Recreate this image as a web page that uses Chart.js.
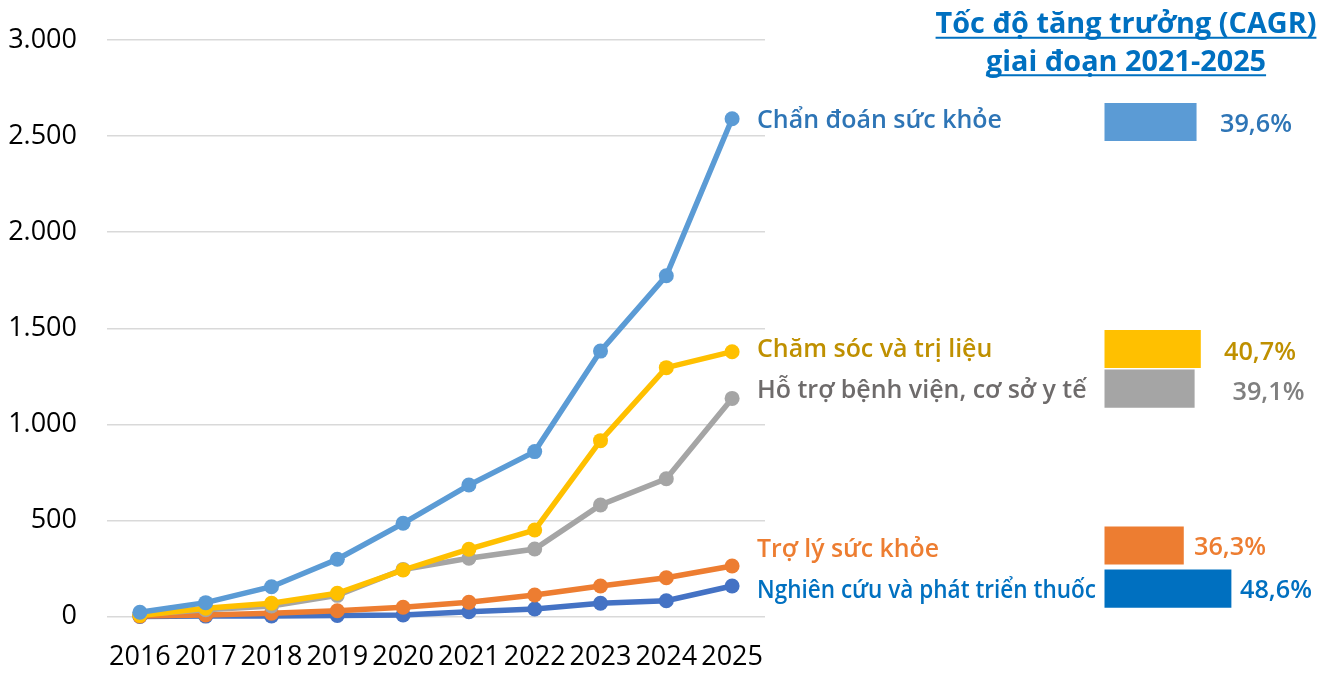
<!DOCTYPE html>
<html><head><meta charset="utf-8">
<script src="https://cdn.jsdelivr.net/npm/chart.js@4.4.1/dist/chart.umd.min.js"></script>
<style>
html,body{margin:0;padding:0;background:#fff;}
#wrap{position:relative;width:1330px;height:673px;}
canvas{position:absolute;left:0;top:0;}
</style></head><body>
<div id="wrap"><canvas id="main" width="1330" height="673"></canvas><canvas id="cagr" width="1330" height="673"></canvas></div>
<script>
// ---- data ----
const years = ['2016','2017','2018','2019','2020','2021','2022','2023','2024','2025'];
const seriesNames = ['Chẩn đoán sức khỏe','Chăm sóc và trị liệu','Hỗ trợ bệnh viện, cơ sở y tế','Trợ lý sức khỏe','Nghiên cứu và phát triển thuốc'];
const chanDoan  = [22, 72, 155, 298, 485, 684, 858, 1381, 1773, 2590];
const chamSoc   = [5, 43, 69, 121, 242, 350, 450, 915, 1295, 1378];
const hoTro     = [10, 35, 55, 110, 245, 303, 351, 580, 717, 1135];
const troLy     = [2, 8, 17, 30, 48, 74, 112, 159, 202, 263];
const nghienCuu = [0, 2, 3, 5, 8, 25, 39, 69, 82, 159];
const cagrValues = [39.6, 40.7, 39.1, 36.3, 48.6];
const cagrLabels = ['39,6%','40,7%','39,1%','36,3%','48,6%'];
const yTickLabels = ['0','500','1.000','1.500','2.000','2.500','3.000'];
const titleLines = ['Tốc độ tăng trưởng (CAGR)','giai đoạn 2021-2025'];

// ---- styles / layout ----
const seriesData = [chanDoan, chamSoc, hoTro, troLy, nghienCuu];
const lineColors = ['#5B9BD5','#FFC000','#A5A5A5','#ED7D31','#4472C4'];
const barColors  = ['#5B9BD5','#FFC000','#A5A5A5','#ED7D31','#0070C0'];
const nameColors = ['#2E75B6','#BF9000','#6E6B6B','#ED7D31','#0070C0'];
const pctColors  = ['#2E75B6','#BF9000','#7F7F7F','#ED7D31','#0070C0'];
const rowY       = [122, 349, 388.7, 545.5, 588.7];
const nameBase   = [128.3, 357.3, 397.7, 556.7, 598.3];
const nameWidth  = [245, 237, 334, 182, 339];
const pctX       = [1220, 1224, 1232.5, 1194, 1240];
const pctBase    = [131.7, 360, 400, 555, 597.7];
const FONT = "'Open Sans', 'Noto Sans', sans-serif";

function fitSize(ctx, text, target, weight){
  ctx.font = weight + ' 100px ' + FONT;
  return 100 * target / ctx.measureText(text).width;
}

new Chart(document.getElementById('main'), {
  type: 'line',
  data: {
    labels: years,
    datasets: seriesNames.map((n, i) => ({
      label: n, data: seriesData[i],
      borderColor: lineColors[i], backgroundColor: lineColors[i],
      pointBackgroundColor: lineColors[i], pointBorderColor: lineColors[i],
      borderWidth: 5.5, pointRadius: 7.5, pointBorderWidth: 0,
      tension: 0, clip: false
    }))
  },
  options: {
    responsive: false, animation: false, events: [],
    layout: { padding: { left: 0, right: 565, top: 40, bottom: 0 } },
    plugins: { legend: { display: false }, tooltip: { enabled: false } },
    scales: {
      x: {
        offset: true,
        grid: { display: false, drawTicks: false },
        border: { display: false },
        ticks: { color: '#000', font: { family: FONT, size: 27 }, padding: 25, maxRotation: 0, autoSkip: false },
        afterFit(s) { s.height = 56.5; }
      },
      y: {
        min: 0, max: 3000,
        ticks: { stepSize: 500, callback: v => yTickLabels[v / 500], color: '#000', font: { family: FONT, size: 27 }, padding: 30 },
        grid: { color: '#D9D9D9', lineWidth: 1.5, drawTicks: false },
        border: { display: false },
        afterFit(s) { s.width = 107; s.paddingTop = 0; s.paddingBottom = 0; }
      }
    }
  }
});

const labelPlugin = {
  id: 'cagrLabels',
  afterDraw(chart) {
    const ctx = chart.ctx;
    ctx.save();
    const titleBase = [33.3, 70.7];
    const titleW = [381, 285];
    const cx = 1126;
    const tSize = fitSize(ctx, titleLines[0], titleW[0], 'bold');
    ctx.fillStyle = '#0070C0';
    ctx.strokeStyle = '#0070C0';
    ctx.textBaseline = 'alphabetic';
    ctx.textAlign = 'left';
    titleLines.forEach((t, i) => {
      ctx.font = 'bold ' + tSize + 'px ' + FONT;
      const w = ctx.measureText(t).width;
      const x0 = cx - w / 2;
      ctx.fillText(t, x0, titleBase[i]);
      ctx.lineWidth = 2;
      ctx.beginPath();
      ctx.moveTo(x0, titleBase[i] + 4.5);
      ctx.lineTo(x0 + w, titleBase[i] + 4.5);
      ctx.stroke();
    });
    const nSize = fitSize(ctx, seriesNames[0], nameWidth[0], '600');
    seriesNames.forEach((n, i) => {
      ctx.font = '600 ' + nSize + 'px ' + FONT;
      ctx.fillStyle = nameColors[i];
      ctx.fillText(n, 757, nameBase[i], nameWidth[i]);
    });
    const pSize = fitSize(ctx, cagrLabels[0], 72, '600');
    cagrLabels.forEach((p, i) => {
      ctx.font = '600 ' + pSize + 'px ' + FONT;
      ctx.fillStyle = pctColors[i];
      ctx.fillText(p, pctX[i], pctBase[i]);
    });
    ctx.restore();
  }
};

const barLeft = 1104.5, pxPerPct = 3.87, barBase = 15.9;
new Chart(document.getElementById('cagr'), {
  type: 'bar',
  data: {
    datasets: [{
      data: cagrValues.map((v, i) => ({ x: v, y: rowY[i] })),
      backgroundColor: barColors, borderWidth: 0, barThickness: 37.5
    }]
  },
  options: {
    indexAxis: 'y', responsive: false, animation: false, events: [],
    layout: { padding: { left: barLeft, right: 0, top: 0, bottom: 0 } },
    plugins: { legend: { display: false }, tooltip: { enabled: false } },
    scales: {
      x: { type: 'linear', min: barBase, max: barBase + (1330 - barLeft) / pxPerPct, display: false, offset: false },
      y: { type: 'linear', min: 0, max: 673, reverse: true, display: false, offset: false }
    }
  },
  plugins: [labelPlugin]
});
</script>
</body></html>
